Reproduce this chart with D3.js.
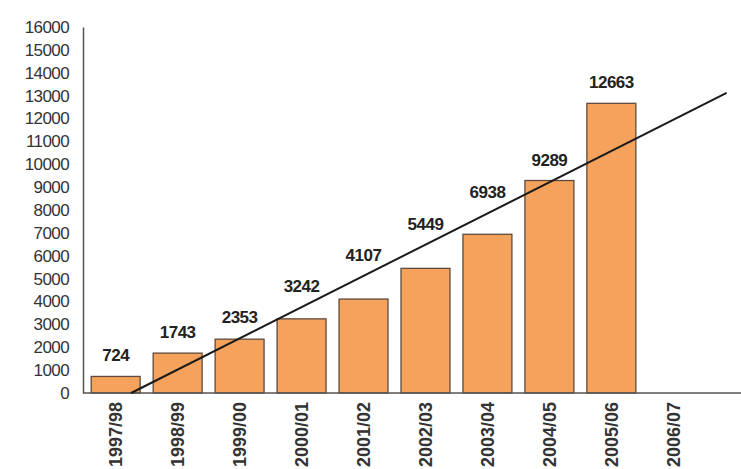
<!DOCTYPE html>
<html>
<head>
<meta charset="utf-8">
<script src="https://cdn.jsdelivr.net/npm/d3@7"></script>
<style>
  body { margin: 0; background: #fff; }
  svg { display: block; font-family: "Liberation Sans", Arial, sans-serif; }
</style>
</head>
<body>
<svg id="chart" width="741" height="469"></svg>
<script>
// data
const years = ['1997/98', '1998/99', '1999/00', '2000/01', '2001/02', '2002/03', '2003/04', '2004/05', '2005/06', '2006/07'];
const counts = [724, 1743, 2353, 3242, 4107, 5449, 6938, 9289, 12663, null];
const yTicks = [0, 1000, 2000, 3000, 4000, 5000, 6000, 7000, 8000, 9000, 10000, 11000, 12000, 13000, 14000, 15000, 16000];
// trend line end points: [category index, value]
const trendFrom = [0.25, 0];
const trendTo = [9.86, 13120];

const width = 741, height = 469;
const margin = {top: 27, left: 83, bottom: 76};
const svg = d3.select('#chart');

const x = d3.scaleBand()
  .domain(years)
  .range([85, 704])
  .paddingInner(0.21)
  .paddingOuter(0.1);

const y = d3.scaleLinear()
  .domain([0, 16000])
  .range([height - margin.bottom, margin.top]);

// category index -> pixel centre, used for the trend line
const xi = d3.scaleLinear()
  .domain([0, 1])
  .range([x(years[0]) + x.bandwidth() / 2, x(years[1]) + x.bandwidth() / 2]);

const trendY = idx => {
  let t = (idx - trendFrom[0]) / (trendTo[0] - trendFrom[0]);
  return y(trendFrom[1] + t * (trendTo[1] - trendFrom[1]));
};

// bars
const barData = years.map((c, i) => ({c: c, v: counts[i], i: i})).filter(d => d.v !== null);

svg.append('g').selectAll('rect')
  .data(barData)
  .enter().append('rect')
  .attr('x', d => x(d.c))
  .attr('y', d => y(d.v))
  .attr('width', x.bandwidth())
  .attr('height', d => y(0) - y(d.v))
  .style('fill', '#f5a35c')
  .style('stroke', '#5e4a3c')
  .style('stroke-width', 1.3);

// y axis
const yAxis = d3.axisLeft(y)
  .tickValues(yTicks)
  .tickSize(0)
  .tickSizeOuter(0)
  .tickPadding(14)
  .tickFormat(d => d);

const gy = svg.append('g')
  .attr('class', 'y axis')
  .attr('transform', 'translate(' + margin.left + ',0)')
  .call(yAxis);
gy.select('.domain').style('stroke', '#555').style('stroke-width', 1.5);
gy.selectAll('text')
  .style('font-size', '17px')
  .style('letter-spacing', '-0.6px')
  .style('fill', '#333');

// x axis
const xAxis = d3.axisBottom(x).tickSize(0).tickPadding(9);
const gx = svg.append('g')
  .attr('class', 'x axis')
  .attr('transform', 'translate(0,' + y(0) + ')')
  .call(xAxis);
gx.select('.domain').remove();
gx.selectAll('text')
  .attr('transform', 'rotate(-90)')
  .attr('x', -9)
  .attr('y', 0)
  .attr('dy', '0.35em')
  .style('text-anchor', 'end')
  .style('font-size', '18px')
  .style('font-weight', 'bold')
  .style('fill', '#333');

svg.append('line')
  .attr('x1', margin.left)
  .attr('x2', width)
  .attr('y1', y(0))
  .attr('y2', y(0))
  .style('stroke', '#555')
  .style('stroke-width', 1.5);

// trend line
svg.append('line')
  .attr('x1', xi(trendFrom[0]))
  .attr('y1', y(trendFrom[1]))
  .attr('x2', xi(trendTo[0]))
  .attr('y2', y(trendTo[1]))
  .style('stroke', '#1a1a1a')
  .style('stroke-width', 2);

// value labels, kept above both the bar and the trend line
svg.append('g').selectAll('text')
  .data(barData)
  .enter().append('text')
  .attr('x', d => x(d.c) + x.bandwidth() / 2)
  .attr('y', d => Math.min(y(d.v), trendY(d.i)) - 15)
  .attr('text-anchor', 'middle')
  .style('font-size', '17px')
  .style('font-weight', 'bold')
  .style('letter-spacing', '-0.5px')
  .style('fill', '#222')
  .text(d => d.v);
</script>
</body>
</html>
